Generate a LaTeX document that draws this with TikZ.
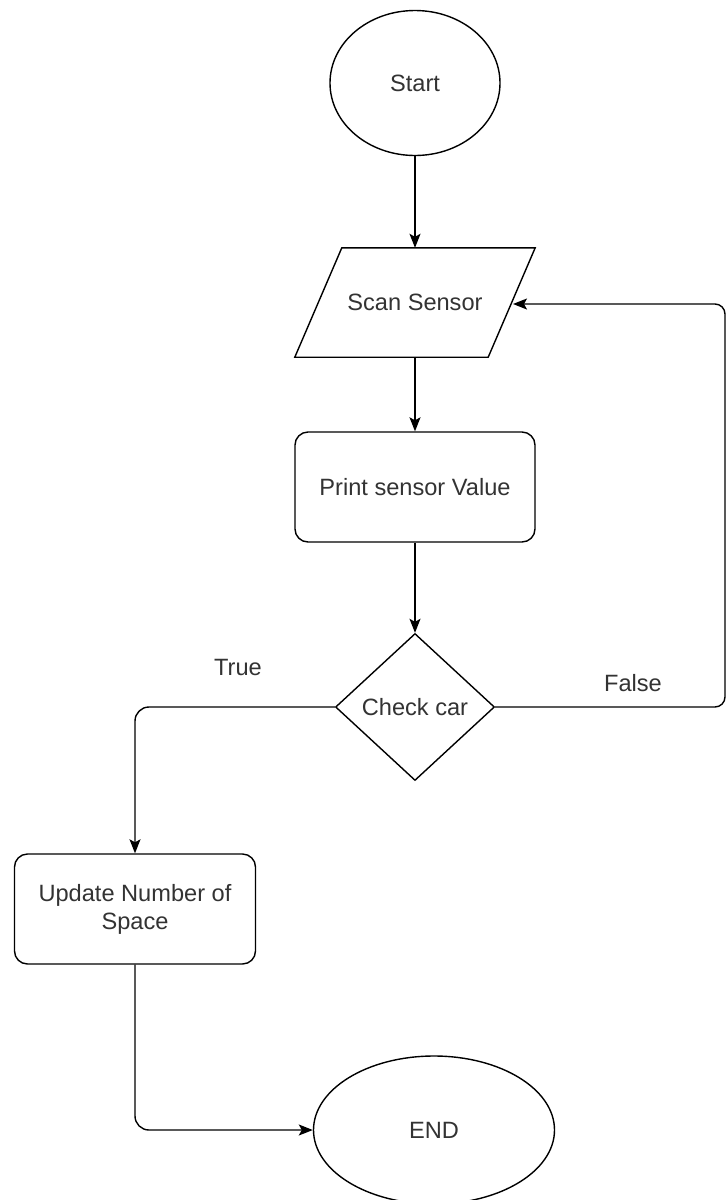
\documentclass[tikz,border=0pt]{standalone}
\usepackage{fontspec}
\setmainfont{Liberation Sans}
\usetikzlibrary{shapes.geometric,arrows.meta,calc}
\definecolor{txt}{HTML}{333333}
\begin{document}
\begin{tikzpicture}[x=1pt,y=-1pt,
  every node/.style={font=\fontsize{23.6}{28}\selectfont, text=txt},
  base/.style={draw=black, line width=1.4pt, inner sep=0pt, align=center},
  oval/.style={base, ellipse},
  iocore/.style={inner sep=0pt, align=center, rectangle},
  procbox/.style={base, rectangle, rounded corners=13pt},
  decision/.style={base, diamond, aspect=1.09},
  shapeline/.style={draw=black, line width=1.4pt, line join=miter},
  arr/.style={line width=1.4pt, -{Stealth[length=14pt,width=11pt,inset=3pt]}},
  lbl/.style={inner sep=0pt}]
\useasboundingbox[fill=white] (0,0) rectangle (728,1200);
\node[oval, minimum width=170pt, minimum height=145pt] (start) at (415,83) {Start};
\node[iocore, minimum width=193pt, minimum height=109pt] (scan) at (415,302.5) {Scan Sensor};
\draw[shapeline] ($(scan.north west)+(23.5,0)$) -- ($(scan.north east)+(23.5,0)$)
  -- ($(scan.south east)+(-23.5,0)$) -- ($(scan.south west)+(-23.5,0)$) -- cycle;
\coordinate (scanIn) at (513,304);
\node[procbox, minimum width=240pt, minimum height=110pt] (print) at (415,487) {Print sensor Value};
\node[decision, minimum width=159pt, minimum height=147pt] (check) at (415,707) {Check car};
\node[procbox, minimum width=241pt, minimum height=110pt] (update) at (135,909) {Update Number of\\Space};
\node[oval, minimum width=241pt, minimum height=148pt] (end) at (434,1130) {END};
\node[lbl] (ltrue) at (238,667) {True};
\node[lbl] (lfalse) at (633,683) {False};
\coordinate (loopR) at (725,707);
\draw[arr] (start) -- (scan);
\draw[arr] (scan) -- (print);
\draw[arr] (print) -- (check);
\draw[arr, rounded corners=14pt] (check.west) -| (update.north);
\draw[arr, rounded corners=14pt] (update.south) |- (end.west);
\draw[arr, rounded corners=10pt] (check.east) -- (loopR) |- (scanIn);
\end{tikzpicture}
\end{document}
